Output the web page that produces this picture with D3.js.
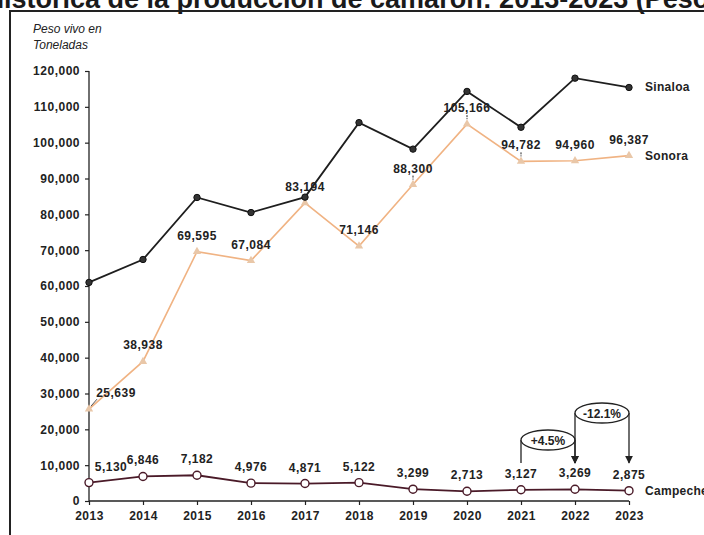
<!DOCTYPE html>
<html>
<head>
<meta charset="utf-8">
<script src="https://cdn.jsdelivr.net/npm/d3@7"></script>
<style>
  body { margin: 0; background: #fff; }
  svg { display: block; }
  text { font-family: "Liberation Sans", Arial, sans-serif; }
</style>
</head>
<body>
<div id="chart"></div>
<script>
const years = [2013, 2014, 2015, 2016, 2017, 2018, 2019, 2020, 2021, 2022, 2023]
const sinaloa = [61000, 67400, 84700, 80500, 84800, 105600, 98200, 114300, 104300, 118000, 115400]
const sonora = [25639, 38938, 69595, 67084, 83194, 71146, 88300, 105166, 94782, 94960, 96387]
const campeche = [5130, 6846, 7182, 4976, 4871, 5122, 3299, 2713, 3127, 3269, 2875]
const yTicks = [0, 10000, 20000, 30000, 40000, 50000, 60000, 70000, 80000, 90000, 100000, 110000, 120000]

const width = 704
const height = 535
const margin = {left: 89, right: 75, top: 71, bottom: 34}

const svg = d3.select("#chart").append("svg")
    .attr("width", width)
    .attr("height", height)

const x = d3.scalePoint()
    .domain(years)
    .range([margin.left, width - margin.right])

const y = d3.scaleLinear()
    .domain([0, 120000])
    .range([height - margin.bottom, margin.top])

const fmt = d3.format(",")

// title, cut by the top of the picture
const title = svg.append("text")
    .attr("y", 7.5)
    .attr("font-size", 27)
    .attr("font-weight", "bold")
    .attr("fill", "#1a1a1a")
    .text("Serie histórica de la producción de camarón: 2013-2023 (Peso vivo en toneladas)")
const prefix = title.node().getSubStringLength(0, 7)
title.attr("x", 4 - prefix)

// frame
svg.append("path")
    .attr("d", `M10,${height}V11H${width}`)
    .attr("fill", "none")
    .attr("stroke", "#222")
    .attr("stroke-width", 2)

svg.append("text")
    .attr("x", 33).attr("y", 33)
    .attr("font-size", 12).attr("font-style", "italic").attr("fill", "#222")
    .text("Peso vivo en")
svg.append("text")
    .attr("x", 33).attr("y", 49)
    .attr("font-size", 12).attr("font-style", "italic").attr("fill", "#222")
    .text("Toneladas")

// axes
const yAxis = d3.axisLeft(y).tickValues(yTicks).tickFormat(fmt).tickSize(4).tickPadding(5)
const xAxis = d3.axisBottom(x).tickSize(4).tickPadding(6).tickFormat(d => d)

const gy = svg.append("g")
    .attr("transform", `translate(${margin.left},0)`)
    .call(yAxis)
const gx = svg.append("g")
    .attr("transform", `translate(0,${height - margin.bottom})`)
    .call(xAxis)

;[gx, gy].forEach(g => {
    g.select(".domain").attr("stroke", "#222").attr("stroke-width", 1.3)
    g.selectAll(".tick line").attr("stroke", "#222").attr("stroke-width", 1.2)
    g.selectAll(".tick text")
        .attr("font-family", "Liberation Sans, Arial, sans-serif")
        .attr("font-size", 12)
        .attr("font-weight", "bold")
        .attr("letter-spacing", 0.5)
        .attr("fill", "#222")
})
gx.select(".domain").attr("d", `M${margin.left},0H${width - margin.right}`)
gy.select(".domain").attr("d", `M0,${y(0)}V${margin.top}`)

const line = d3.line().x((d, i) => x(years[i])).y(d => y(d))

// Sonora
svg.append("path")
    .datum(sonora)
    .attr("d", line)
    .attr("fill", "none")
    .attr("stroke", "#f0b383")
    .attr("stroke-width", 1.6)

svg.selectAll(".son-mark")
    .data(sonora)
    .enter()
    .append("path")
    .attr("class", "son-mark")
    .attr("transform", (d, i) => `translate(${x(years[i])},${y(d)})`)
    .attr("d", d3.symbol(d3.symbolTriangle, 30))
    .attr("fill", "#e9c7a8")

// Sinaloa
svg.append("path")
    .datum(sinaloa)
    .attr("d", line)
    .attr("fill", "none")
    .attr("stroke", "#1e1e1e")
    .attr("stroke-width", 1.8)

svg.selectAll(".sin-mark")
    .data(sinaloa)
    .enter()
    .append("circle")
    .attr("class", "sin-mark")
    .attr("cx", (d, i) => x(years[i]))
    .attr("cy", d => y(d))
    .attr("r", 3.2)
    .attr("fill", "#333")
    .attr("stroke", "#111")

// Campeche
svg.append("path")
    .datum(campeche)
    .attr("d", line)
    .attr("fill", "none")
    .attr("stroke", "#4a1a28")
    .attr("stroke-width", 1.8)

svg.selectAll(".cam-mark")
    .data(campeche)
    .enter()
    .append("circle")
    .attr("class", "cam-mark")
    .attr("cx", (d, i) => x(years[i]))
    .attr("cy", d => y(d))
    .attr("r", 4)
    .attr("fill", "#fff")
    .attr("stroke", "#4a1a28")
    .attr("stroke-width", 1.4)

// value labels: first year is pushed right of the axis
function labels(cls, data, firstDx) {
    svg.selectAll("." + cls)
        .data(data)
        .enter()
        .append("text")
        .attr("class", cls)
        .attr("x", (d, i) => x(years[i]) + (i === 0 ? firstDx : 0))
        .attr("y", d => y(d) - 12)
        .attr("text-anchor", "middle")
        .attr("font-size", 12)
        .attr("font-weight", "bold")
        .attr("letter-spacing", 0.5)
        .attr("fill", "#222")
        .text(d => fmt(d))
}
labels("son-lab", sonora, 27)
labels("cam-lab", campeche, 22)

// short leader ticks under some Sonora labels
svg.append("line")
    .attr("x1", x(years[0]) + 2).attr("y1", y(sonora[0]) - 3)
    .attr("x2", x(years[0]) + 8).attr("y2", y(sonora[0]) - 10)
    .attr("stroke", "#555").attr("stroke-width", 1)
const leaders = [6, 7, 8]
svg.selectAll(".lead")
    .data(leaders)
    .enter()
    .append("line")
    .attr("x1", i => x(years[i]))
    .attr("x2", i => x(years[i]))
    .attr("y1", i => y(sonora[i]) - 9)
    .attr("y2", i => y(sonora[i]) - 5)
    .attr("stroke", "#222")
    .attr("stroke-width", 1)
    .attr("stroke-dasharray", "2,1")

// series names
const last = years.length - 1
const names = [["Sinaloa", sinaloa[last]], ["Sonora", sonora[last]], ["Campeche", campeche[last]]]
svg.selectAll(".name")
    .data(names)
    .enter()
    .append("text")
    .attr("x", x(years[last]) + 16)
    .attr("y", d => y(d[1]) + 4)
    .attr("font-size", 12)
    .attr("font-weight", "bold")
    .attr("letter-spacing", 0.3)
    .attr("fill", "#222")
    .text(d => d[0])

// change annotations
const changes = [
    {from: 8, to: 9, text: "+4.5%", top: 440, arrowFrom: false},
    {from: 9, to: 10, text: "-12.1%", top: 413, arrowFrom: true}
]
svg.append("defs").append("marker")
    .attr("id", "arrow")
    .attr("viewBox", "0 0 10 10")
    .attr("refX", 9).attr("refY", 5)
    .attr("markerWidth", 6).attr("markerHeight", 6)
    .attr("orient", "auto")
    .append("path")
    .attr("d", "M0,0L10,5L0,10z")
    .attr("fill", "#222")

changes.forEach(c => {
    const x0 = x(years[c.from])
    const x1 = x(years[c.to])
    const bottom = 463
    const g = svg.append("g")
    g.append("line")
        .attr("x1", x0).attr("x2", x0)
        .attr("y1", c.arrowFrom ? c.top : bottom)
        .attr("y2", c.arrowFrom ? bottom : c.top)
        .attr("stroke", "#222").attr("stroke-width", 1.3)
        .attr("marker-end", c.arrowFrom ? "url(#arrow)" : null)
    g.append("line")
        .attr("x1", x1).attr("x2", x1)
        .attr("y1", c.top).attr("y2", bottom)
        .attr("stroke", "#222").attr("stroke-width", 1.3)
        .attr("marker-end", "url(#arrow)")
    g.append("ellipse")
        .attr("cx", (x0 + x1) / 2).attr("cy", c.top)
        .attr("rx", (x1 - x0) / 2).attr("ry", 10)
        .attr("fill", "#fff")
        .attr("stroke", "#222").attr("stroke-width", 1.3)
    g.append("text")
        .attr("x", (x0 + x1) / 2).attr("y", c.top + 4.5)
        .attr("text-anchor", "middle")
        .attr("font-size", 12).attr("font-weight", "bold")
        .attr("fill", "#222")
        .text(c.text)
})
</script>
</body>
</html>
